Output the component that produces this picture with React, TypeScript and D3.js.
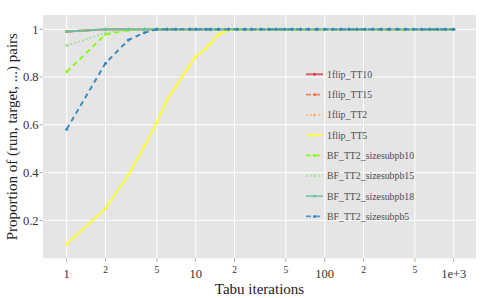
import * as d3 from 'd3';

const iterations = [
    1, 2, 3, 4, 5, 6, 7, 9, 10, 12, 13, 15, 18, 21, 24, 27, 32, 37, 42, 49, 56,
    65, 75, 87, 100, 115, 133, 154, 178, 205, 237, 274, 316, 365, 422, 487, 562,
    649, 750, 866, 1000,
];

// these three sit under BF_TT2_sizesubpb18 the whole way
const flipTT10 = [
    0.991, 1, 1, 1, 1, 1, 1, 1, 1, 1, 1, 1, 1, 1, 1, 1, 1, 1, 1, 1, 1, 1, 1, 1, 1,
    1, 1, 1, 1, 1, 1, 1, 1, 1, 1, 1, 1, 1, 1, 1, 1,
];
const flipTT15 = [
    0.991, 1, 1, 1, 1, 1, 1, 1, 1, 1, 1, 1, 1, 1, 1, 1, 1, 1, 1, 1, 1, 1, 1, 1, 1,
    1, 1, 1, 1, 1, 1, 1, 1, 1, 1, 1, 1, 1, 1, 1, 1,
];
const flipTT2 = [
    0.991, 1, 1, 1, 1, 1, 1, 1, 1, 1, 1, 1, 1, 1, 1, 1, 1, 1, 1, 1, 1, 1, 1, 1, 1,
    1, 1, 1, 1, 1, 1, 1, 1, 1, 1, 1, 1, 1, 1, 1, 1,
];
const flipTT5 = [
    0.1, 0.25, 0.39, 0.51, 0.61, 0.705, 0.76, 0.85, 0.886, 0.92, 0.94, 0.978,
    0.997, 1, 1, 1, 1, 1, 1, 1, 1, 1, 1, 1, 1, 1, 1, 1, 1, 1, 1, 1, 1, 1, 1, 1,
    1, 1, 1, 1, 1,
];
const bfSize10 = [
    0.822, 0.979, 0.996, 1, 1, 1, 1, 1, 1, 1, 1, 1, 1, 1, 1, 1, 1, 1, 1, 1, 1, 1,
    1, 1, 1, 1, 1, 1, 1, 1, 1, 1, 1, 1, 1, 1, 1, 1, 1, 1, 1,
];
const bfSize15 = [
    0.932, 0.985, 1, 1, 1, 1, 1, 1, 1, 1, 1, 1, 1, 1, 1, 1, 1, 1, 1, 1, 1, 1, 1,
    1, 1, 1, 1, 1, 1, 1, 1, 1, 1, 1, 1, 1, 1, 1, 1, 1, 1,
];
const bfSize18 = [
    0.991, 1, 1, 1, 1, 1, 1, 1, 1, 1, 1, 1, 1, 1, 1, 1, 1, 1, 1, 1, 1, 1, 1, 1, 1,
    1, 1, 1, 1, 1, 1, 1, 1, 1, 1, 1, 1, 1, 1, 1, 1,
];
const bfSize5 = [
    0.582, 0.858, 0.955, 0.986, 1, 1, 1, 1, 1, 1, 1, 1, 1, 1, 1, 1, 1, 1, 1, 1,
    1, 1, 1, 1, 1, 1, 1, 1, 1, 1, 1, 1, 1, 1, 1, 1, 1, 1, 1, 1, 1,
];

const seriesNames = [
    '1flip_TT10',
    '1flip_TT15',
    '1flip_TT2',
    '1flip_TT5',
    'BF_TT2_sizesubpb10',
    'BF_TT2_sizesubpb15',
    'BF_TT2_sizesubpb18',
    'BF_TT2_sizesubpb5',
];
const seriesValues = [
    flipTT10,
    flipTT15,
    flipTT2,
    flipTT5,
    bfSize10,
    bfSize15,
    bfSize18,
    bfSize5,
];
const seriesColors = [
    '#d53e4f',
    '#f46d43',
    '#fdae61',
    '#ffff33',
    '#80ff00',
    '#abdda4',
    '#66c2a5',
    '#3288bd',
];
const seriesDash = ['', '5,4', '2,2', '', '5,4', '2,2', '', '5,4'];

const xTicks = [1, 2, 5, 10, 20, 50, 100, 200, 500, 1000];
const xTickLabels = ['1', '2', '5', '10', '2', '5', '100', '2', '5', '1e+3'];
const xTickMajor = [true, false, false, true, false, false, true, false, false, true];
const yTicks = [0.2, 0.4, 0.6, 0.8, 1];
const yTickLabels = ['0.2', '0.4', '0.6', '0.8', '1'];

export default function App() {
    const width = 485,
        height = 298;
    const margin = { top: 15, right: 9, bottom: 39.7, left: 43 };
    const plotRight = width - margin.right;
    const plotBottom = height - margin.bottom;

    const x = d3.scaleLog().domain([0.655, 1489]).range([margin.left, plotRight]);
    const y = d3.scaleLinear().domain([0.041, 1.06]).range([plotBottom, margin.top]);

    const line = d3
        .line<number>()
        .x((_, i) => x(iterations[i]))
        .y((d) => y(d));

    const serif = '"Liberation Serif", "Times New Roman", serif';
    const legendX = 306;
    const legendY = 74.3;
    const legendStep = 20.3;

    return (
        <svg
            width={width}
            height={height}
            style={{ position: 'absolute', left: 0, top: 0, background: '#fff' }}
            fontFamily={serif}
        >
            <rect
                x={margin.left}
                y={margin.top}
                width={plotRight - margin.left}
                height={plotBottom - margin.top}
                fill="#e5e5e5"
            />
            {yTicks.map((t) => (
                <line
                    key={'gy' + t}
                    x1={margin.left}
                    x2={plotRight}
                    y1={y(t)}
                    y2={y(t)}
                    stroke="#fff"
                    strokeWidth={1}
                />
            ))}
            {xTicks.map((t) => (
                <line
                    key={'gx' + t}
                    x1={x(t)}
                    x2={x(t)}
                    y1={margin.top}
                    y2={plotBottom}
                    stroke="#fff"
                    strokeWidth={1}
                />
            ))}

            {seriesValues.map((vals, k) => (
                <g key={seriesNames[k]}>
                    <path
                        d={line(vals) ?? ''}
                        fill="none"
                        stroke={seriesColors[k]}
                        strokeWidth={1.9}
                        strokeDasharray={seriesDash[k] || undefined}
                    />
                    {vals.map((v, i) => (
                        <circle
                            key={i}
                            cx={x(iterations[i])}
                            cy={y(v)}
                            r={1.5}
                            fill={seriesColors[k]}
                        />
                    ))}
                </g>
            ))}

            {/* legend */}
            {seriesNames.map((name, k) => {
                const ly = legendY + k * legendStep;
                return (
                    <g key={'lg' + name}>
                        <line
                            x1={legendX}
                            x2={legendX + 17}
                            y1={ly}
                            y2={ly}
                            stroke={seriesColors[k]}
                            strokeWidth={1.9}
                            strokeOpacity={0.8}
                            strokeDasharray={seriesDash[k] || undefined}
                        />
                        <circle cx={legendX + 8.5} cy={ly} r={1.5} fill={seriesColors[k]} />
                        <text
                            x={legendX + 21}
                            y={ly}
                            dy="0.35em"
                            fontSize={9.8}
                            fill="#4d4d4d"
                        >
                            {name}
                        </text>
                    </g>
                );
            })}

            {/* x axis */}
            {xTicks.map((t, i) => (
                <g key={'xt' + t}>
                    <line
                        x1={x(t)}
                        x2={x(t)}
                        y1={plotBottom}
                        y2={plotBottom + 3.5}
                        stroke="#aaa"
                    />
                    <text
                        x={x(t)}
                        y={xTickMajor[i] ? 278.3 : 273.3}
                        textAnchor="middle"
                        fontSize={xTickMajor[i] ? 12.5 : 9.5}
                        fill="#333"
                    >
                        {xTickLabels[i]}
                    </text>
                </g>
            ))}
            <text
                x={(margin.left + plotRight) / 2}
                y={294}
                textAnchor="middle"
                fontSize={15}
                fill="#222"
            >
                Tabu iterations
            </text>

            {/* y axis */}
            {yTicks.map((t, i) => (
                <g key={'yt' + t}>
                    <line
                        x1={margin.left - 3.5}
                        x2={margin.left}
                        y1={y(t)}
                        y2={y(t)}
                        stroke="#aaa"
                    />
                    <text
                        x={38.5}
                        y={y(t)}
                        dy="0.35em"
                        textAnchor="end"
                        fontSize={12.5}
                        fill="#333"
                    >
                        {yTickLabels[i]}
                    </text>
                </g>
            ))}
            <text
                transform={`translate(17,${(margin.top + plotBottom) / 2}) rotate(-90)`}
                textAnchor="middle"
                fontSize={15}
                fill="#222"
            >
                Proportion of (run, target, ...) pairs
            </text>
        </svg>
    );
}
